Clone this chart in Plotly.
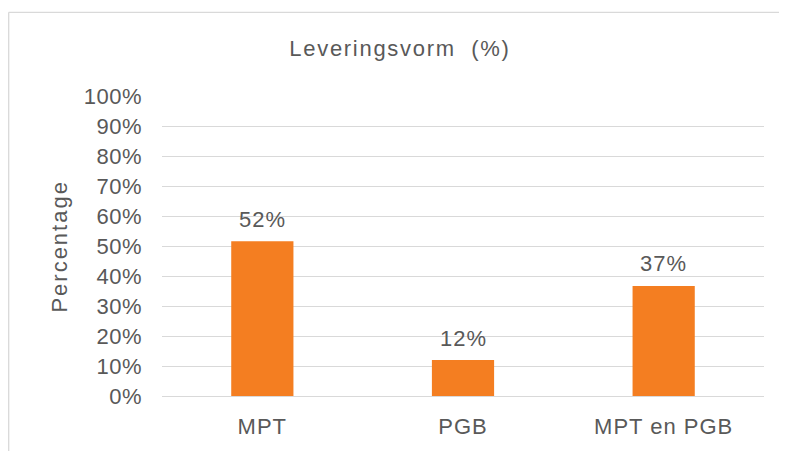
import plotly.graph_objects as go

categories = ["MPT", "PGB", "MPT en PGB"]
values = [51.6, 12.0, 36.7]
y_ticks = [0, 10, 20, 30, 40, 50, 60, 70, 80, 90, 100]
y_tick_labels = [f"{v}%" for v in y_ticks]
title_text = "Leveringsvorm  (%)"
y_title = "Percentage"

TXT = "#595959"
GRID = "#D9D9D9"
BAR = "#F47E21"
FONT = "Liberation Sans, Arial, sans-serif"

# page body has an 8px margin; figure is sized/placed to compensate
W, H = 779, 443
L, T = 154, 88
PW, PH = 602, 303


def sp(s, ls=1):
    return f'<span style="letter-spacing:{ls}px">{s}</span>'


fig = go.Figure()
fig.add_trace(go.Bar(
    x=categories, y=values,
    marker=dict(color=BAR, line=dict(width=0)),
    width=0.31,
    hoverinfo="skip",
))

for c, v in zip(categories, values):
    fig.add_annotation(
        x=c, y=v, xref="x", yref="y",
        text=sp(f"{v:.0f}%"), showarrow=False,
        yanchor="middle", yshift=22,
        font=dict(family=FONT, size=22, color=TXT),
    )

fig.add_annotation(
    x=(52 - L) / PW, y=0.498, xref="paper", yref="paper",
    text=sp(y_title, 2), textangle=-90, showarrow=False,
    xanchor="center", yanchor="middle",
    font=dict(family=FONT, size=22, color=TXT),
)

# outer chart frame (cropped on right and bottom)
fx0 = (0.7 - L) / PW
fy1 = (T + PH - 3.5) / PH
fig.add_shape(type="line", xref="paper", yref="paper", x0=fx0, x1=fx0, y0=fy1, y1=-0.5,
              line=dict(color=GRID, width=1.3))
fig.add_shape(type="line", xref="paper", yref="paper", x0=fx0, x1=1.2, y0=fy1, y1=fy1,
              line=dict(color=GRID, width=1.3))

fig.update_layout(
    width=W, height=H,
    margin=dict(l=L, r=W - L - PW, t=T, b=H - T - PH),
    paper_bgcolor="white", plot_bgcolor="white",
    showlegend=False,
    font=dict(family=FONT, size=22, color=TXT),
    title=dict(
        text=sp(title_text, 1.7), x=392 / W, xref="container", xanchor="center",
        y=1 - 40 / H, yref="container", yanchor="middle",
        font=dict(family=FONT, size=22, color=TXT),
    ),
    xaxis=dict(
        type="category", showgrid=False, showline=False, zeroline=False,
        ticks="", tickfont=dict(family=FONT, size=22, color=TXT),
        tickvals=categories, ticktext=[sp(c) for c in categories],
        ticklabelstandoff=15,
    ),
    yaxis=dict(
        range=[0, 100], tickvals=y_ticks, ticktext=[sp(t, 0.5) for t in y_tick_labels],
        showgrid=True, gridcolor=GRID, gridwidth=1.3,
        zeroline=True, zerolinecolor=GRID, zerolinewidth=1.3,
        showline=False, ticks="",
        tickfont=dict(family=FONT, size=22, color=TXT),
        ticklabelstandoff=19,
    ),
)

fig.write_html("out.html")
